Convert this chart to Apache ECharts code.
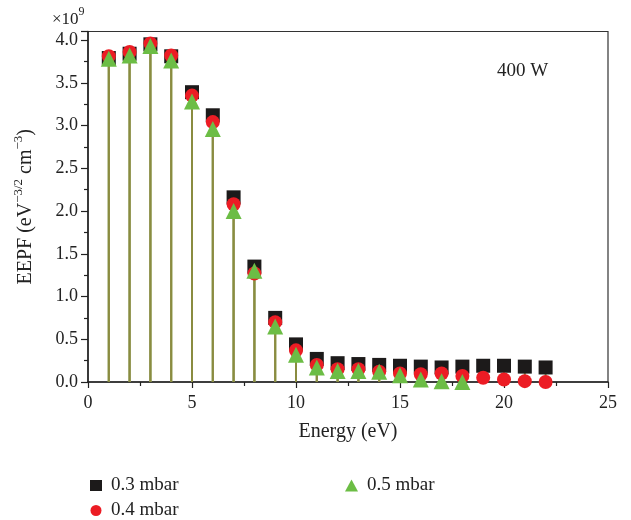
<!DOCTYPE html>
<html>
<head>
<meta charset="utf-8">
<script src="https://cdn.jsdelivr.net/npm/echarts@6/dist/echarts.min.js"></script>
<style>
  html, body { margin: 0; padding: 0; background: #fff; }
  #chart { width: 631px; height: 520px; }
</style>
</head>
<body>
<div id="chart"></div>
<script>
// 能量 (eV)
const energy = [1, 2, 3, 4, 5, 6, 7, 8, 9, 10, 11, 12, 13, 14, 15, 16, 17, 18, 19, 20, 21, 22]
// EEPF (x 1e9)
const eepf03 = [3.79, 3.84, 3.95, 3.81, 3.39, 3.12, 2.16, 1.35, 0.75, 0.44, 0.27, 0.22, 0.21, 0.20, 0.19, 0.18, 0.17, 0.18, 0.19, 0.19, 0.18, 0.17]
const eepf04 = [3.81, 3.86, 3.96, 3.82, 3.35, 3.04, 2.08, 1.27, 0.70, 0.37, 0.20, 0.15, 0.15, 0.12, 0.10, 0.09, 0.10, 0.07, 0.05, 0.03, 0.01, 0.00]
const eepf05 = [3.78, 3.82, 3.93, 3.76, 3.28, 2.96, 2.00, 1.30, 0.65, 0.32, 0.17, 0.13, 0.13, 0.12, 0.08, 0.03, 0.01, 0.00]
const seriesNames = ['0.3 mbar', '0.4 mbar', '0.5 mbar']
const xTicks = [0, 5, 10, 15, 20, 25]
const yTicks = [0, 0.5, 1.0, 1.5, 2.0, 2.5, 3.0, 3.5, 4.0]

const FONT = 'Liberation Serif'
const pairs = (vals) => vals.map((v, i) => [energy[i], v])

let myChart = echarts.init(document.getElementById('chart'))

// 竖线 (stem)
const stem = (name, vals, color, z) => ({
  name: name,
  type: 'bar',
  barWidth: 2,
  barGap: '-100%',
  z: z,
  silent: true,
  itemStyle: { color: color },
  data: pairs(vals)
})

const points = (name, vals, symbol, size, color, z) => ({
  name: name,
  type: 'scatter',
  symbol: symbol,
  symbolSize: size,
  z: z,
  itemStyle: { color: color, opacity: 1 },
  data: pairs(vals)
})

const axisText = { fontFamily: FONT, fontSize: 18, color: '#222' }
const legendText = { fontFamily: FONT, fontSize: 19, color: '#222', padding: [0, 0, 0, 4] }

var option = {
  animation: false,
  grid: {
    left: 88, right: 23, top: 31.5, bottom: 138,
    show: true, borderColor: '#333', borderWidth: 1.2, backgroundColor: 'transparent'
  },
  xAxis: {
    type: 'value',
    min: xTicks[0],
    max: xTicks[xTicks.length - 1],
    interval: 5,
    name: 'Energy (eV)',
    nameLocation: 'middle',
    nameGap: 40,
    nameTextStyle: { fontFamily: FONT, fontSize: 20, color: '#222' },
    axisLine: { lineStyle: { color: '#222', width: 1.5 } },
    axisTick: { inside: false, length: 6, lineStyle: { color: '#222', width: 1.2 } },
    minorTick: { show: true, splitNumber: 2, length: 4, lineStyle: { color: '#222', width: 1.2 } },
    axisLabel: Object.assign({ margin: 12 }, axisText),
    splitLine: { show: false }
  },
  yAxis: {
    type: 'value',
    min: yTicks[0],
    max: 4.1,
    interval: 0.5,
    name: '{b|EEPF (eV}{s|−3/2}{b| cm}{s|−3}{b|)}',
    nameLocation: 'middle',
    nameRotate: 90,
    nameGap: 52,
    nameTextStyle: {
      fontFamily: FONT, fontSize: 20, color: '#222',
      rich: {
        b: { fontFamily: FONT, fontSize: 20, color: '#222', lineHeight: 24, verticalAlign: 'bottom' },
        s: { fontFamily: FONT, fontSize: 13, color: '#222', lineHeight: 17, verticalAlign: 'top' }
      }
    },
    axisLine: { show: true, lineStyle: { color: '#222', width: 1.5 } },
    axisTick: { show: true, inside: false, length: 7, lineStyle: { color: '#222', width: 1.2 } },
    minorTick: { show: true, splitNumber: 2, length: 4, lineStyle: { color: '#222', width: 1.2 } },
    axisLabel: Object.assign({
      margin: 10,
      showMaxLabel: false,
      formatter: v => v.toFixed(1)
    }, axisText),
    splitLine: { show: false }
  },
  legend: [{
    data: seriesNames.slice(0, 2),
    orient: 'vertical',
    left: 85,
    top: 471,
    height: 70,
    itemWidth: 12,
    itemHeight: 11,
    itemGap: 6,
    textStyle: legendText
  }, {
    data: seriesNames.slice(2),
    orient: 'vertical',
    left: 340,
    top: 471,
    itemWidth: 13,
    itemHeight: 12,
    textStyle: legendText
  }],
  graphic: [{
    type: 'text',
    left: 52,
    top: 6,
    style: {
      text: '{b|×10}{s|9}',
      rich: {
        b: { fontFamily: FONT, fontSize: 17, fill: '#222', lineHeight: 22, verticalAlign: 'bottom' },
        s: { fontFamily: FONT, fontSize: 12, fill: '#222', lineHeight: 12, verticalAlign: 'top' }
      }
    }
  }, {
    type: 'text',
    left: 497,
    top: 62,
    style: { text: '400 W', fontFamily: FONT, fontSize: 19, fill: '#222' }
  }],
  series: [
    stem('stem05', eepf05, '#6cb843', 2),
    stem('stem04', eepf04, '#a8926c', 3),
    stem('stem03', eepf03, '#8a8c40', 4),
    points(seriesNames[0], eepf03, 'rect', 14, '#1c1a1a', 10),
    points(seriesNames[1], eepf04, 'circle', 14, '#ec1c24', 11),
    points(seriesNames[2], eepf05, 'triangle', 16, '#6cbd45', 12)
  ]
}

myChart.setOption(option)
</script>
</body>
</html>
